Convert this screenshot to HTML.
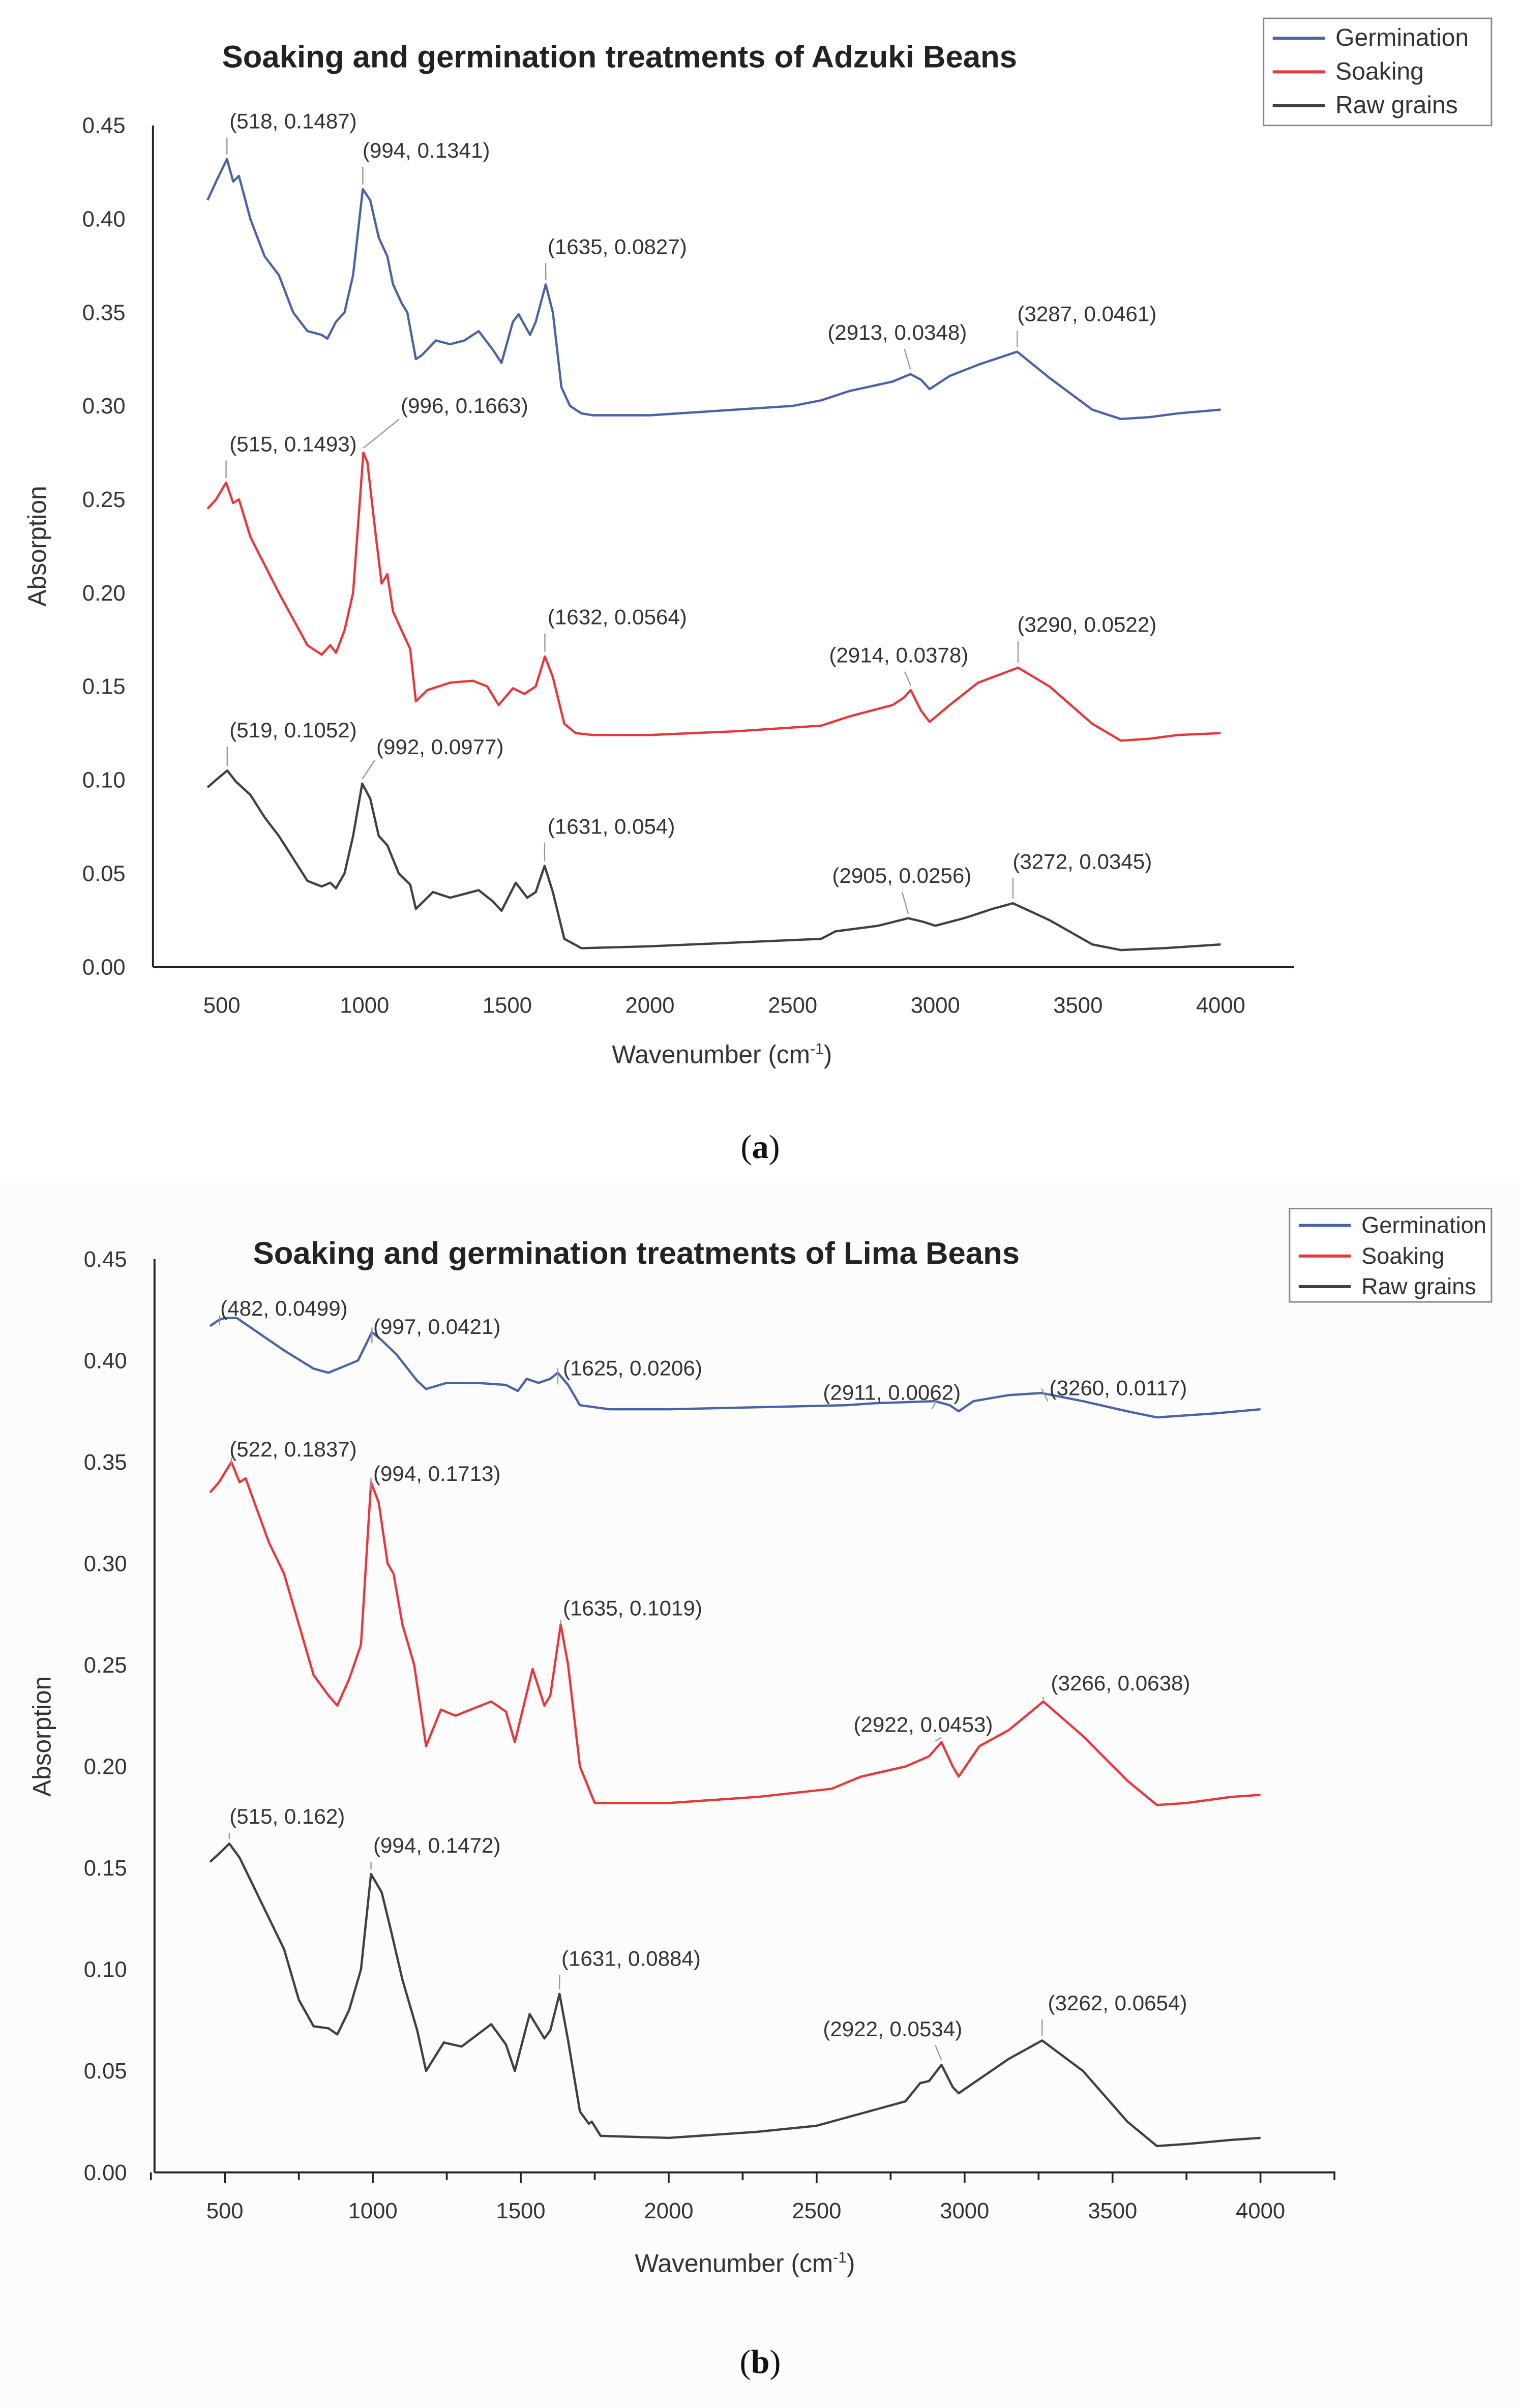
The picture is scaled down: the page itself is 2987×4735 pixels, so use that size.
<!DOCTYPE html>
<html><head><meta charset="utf-8"><style>
html,body{margin:0;padding:0;background:#fff;}
svg{display:block;font-family:"Liberation Sans",sans-serif;}
</style></head><body>
<svg id="s" width="2987" height="4735" viewBox="0 0 993 1574" preserveAspectRatio="none" xmlns="http://www.w3.org/2000/svg">
<rect x="0" y="0" width="993" height="1574" fill="#fff"/>
<rect x="0" y="770" width="993" height="804" fill="#fcfcfc"/>
</svg>
<script>
// ---- Chart A data (Adzuki) ----
const aGermX=[450,480,518,540,560,600,650,700,750,800,850,870,900,930,960,994,1020,1050,1080,1100,1130,1150,1180,1200,1250,1300,1350,1400,1450,1480,1520,1540,1580,1600,1635,1660,1690,1720,1760,1800,2000,2300,2500,2600,2700,2850,2913,2950,2980,3050,3150,3287,3400,3550,3650,3750,3850,4000];
const aGermY=[0.41,0.42,0.432,0.42,0.423,0.40,0.38,0.37,0.35,0.34,0.338,0.336,0.345,0.35,0.37,0.416,0.41,0.39,0.38,0.365,0.355,0.35,0.325,0.327,0.335,0.333,0.335,0.34,0.33,0.323,0.345,0.349,0.338,0.345,0.365,0.35,0.31,0.30,0.296,0.295,0.295,0.298,0.300,0.303,0.308,0.313,0.317,0.314,0.309,0.316,0.322,0.329,0.315,0.298,0.293,0.294,0.296,0.298];
const aSoakX=[450,480,515,540,560,600,650,700,750,800,850,880,900,930,960,996,1010,1040,1060,1080,1100,1130,1160,1180,1220,1300,1380,1430,1470,1520,1560,1600,1632,1660,1700,1740,1800,2000,2300,2600,2700,2850,2890,2914,2950,2980,3050,3150,3290,3400,3550,3650,3750,3850,4000];
const aSoakY=[0.245,0.25,0.259,0.248,0.25,0.23,0.215,0.20,0.186,0.172,0.167,0.172,0.168,0.18,0.20,0.275,0.27,0.23,0.205,0.21,0.19,0.18,0.17,0.142,0.148,0.152,0.153,0.15,0.14,0.149,0.146,0.150,0.166,0.155,0.13,0.125,0.124,0.124,0.126,0.129,0.134,0.14,0.144,0.148,0.137,0.131,0.14,0.152,0.16,0.15,0.13,0.121,0.122,0.124,0.125];
const aRawX=[450,480,519,550,600,650,700,750,800,850,880,900,930,960,992,1020,1050,1080,1120,1160,1180,1240,1300,1400,1450,1480,1530,1570,1600,1631,1660,1700,1760,2000,2300,2600,2650,2800,2905,2960,3000,3100,3200,3272,3400,3550,3650,3800,4000];
const aRawY=[0.096,0.10,0.105,0.099,0.092,0.08,0.07,0.058,0.046,0.043,0.045,0.042,0.05,0.07,0.098,0.09,0.07,0.065,0.05,0.044,0.031,0.04,0.037,0.041,0.035,0.03,0.045,0.037,0.04,0.054,0.04,0.015,0.01,0.011,0.013,0.015,0.019,0.022,0.026,0.024,0.022,0.026,0.031,0.034,0.025,0.012,0.009,0.010,0.012];
// ---- Chart B data (Lima) ----
const bGermX=[450,480,500,540,600,700,800,850,900,950,997,1030,1080,1150,1180,1250,1350,1450,1490,1520,1560,1600,1625,1660,1700,1800,2000,2300,2600,2700,2900,2950,2980,3030,3150,3260,3400,3550,3650,3750,3850,4000];
const bGermY=[0.417,0.42,0.421,0.421,0.415,0.405,0.396,0.394,0.397,0.400,0.414,0.41,0.403,0.39,0.386,0.389,0.389,0.388,0.385,0.391,0.389,0.391,0.394,0.388,0.378,0.376,0.376,0.377,0.378,0.379,0.380,0.378,0.375,0.380,0.383,0.384,0.380,0.375,0.372,0.373,0.374,0.376];
const bSoakX=[450,480,522,550,570,600,650,700,750,800,850,880,920,960,994,1020,1050,1070,1100,1140,1180,1230,1280,1330,1400,1450,1480,1540,1580,1600,1635,1660,1700,1750,2000,2300,2550,2650,2800,2880,2922,2960,2980,3050,3150,3266,3400,3550,3650,3750,3900,4000];
const bSoakY=[0.335,0.34,0.35,0.34,0.342,0.33,0.31,0.295,0.27,0.245,0.235,0.23,0.243,0.26,0.34,0.33,0.30,0.295,0.27,0.25,0.21,0.228,0.225,0.228,0.232,0.227,0.212,0.248,0.23,0.235,0.27,0.25,0.20,0.182,0.182,0.185,0.189,0.195,0.20,0.205,0.212,0.20,0.195,0.21,0.218,0.232,0.215,0.193,0.181,0.182,0.185,0.186];
const bRawX=[450,480,515,550,600,650,700,750,800,850,880,920,960,994,1030,1060,1100,1150,1180,1240,1300,1400,1450,1480,1530,1580,1600,1631,1660,1700,1730,1740,1770,2000,2300,2500,2650,2800,2850,2880,2922,2960,2980,3050,3150,3262,3400,3550,3650,3750,3900,4000];
const bRawY=[0.153,0.157,0.162,0.155,0.14,0.125,0.11,0.085,0.072,0.071,0.068,0.08,0.10,0.147,0.138,0.12,0.095,0.07,0.05,0.064,0.062,0.073,0.063,0.05,0.078,0.066,0.07,0.088,0.065,0.03,0.024,0.025,0.018,0.017,0.02,0.023,0.029,0.035,0.044,0.045,0.053,0.042,0.039,0.046,0.056,0.065,0.05,0.025,0.013,0.014,0.016,0.017];
const yTicks=["0.00","0.05","0.10","0.15","0.20","0.25","0.30","0.35","0.40","0.45"];
const xTicks=[500,1000,1500,2000,2500,3000,3500,4000];
const seriesNames=["Germination","Soaking","Raw grains"];
const aAnn=[[518,0.432,"(518, 0.1487)",150,84],[994,0.416,"(994, 0.1341)",237,103],[1635,0.365,"(1635, 0.0827)",358,166],[2913,0.317,"(2913, 0.0348)",541,222],[3287,0.329,"(3287, 0.0461)",665,210],
[996,0.275,"(996, 0.1663)",262,270],[515,0.259,"(515, 0.1493)",150,295],[1632,0.166,"(1632, 0.0564)",358,408],[2914,0.148,"(2914, 0.0378)",542,433],[3290,0.16,"(3290, 0.0522)",665,413],
[519,0.105,"(519, 0.1052)",150,482],[992,0.098,"(992, 0.0977)",246,493],[1631,0.054,"(1631, 0.054)",358,545],[2905,0.026,"(2905, 0.0256)",544,577],[3272,0.034,"(3272, 0.0345)",662,568]];
const bAnn=[[482,0.42,"(482, 0.0499)",144,860],[997,0.414,"(997, 0.0421)",244,872],[1625,0.394,"(1625, 0.0206)",368,899],[2911,0.380,"(2911, 0.0062)",538,915],[3260,0.384,"(3260, 0.0117)",686,912],
[522,0.35,"(522, 0.1837)",150,952],[994,0.34,"(994, 0.1713)",244,968],[1635,0.27,"(1635, 0.1019)",368,1056],[2922,0.212,"(2922, 0.0453)",558,1132],[3266,0.232,"(3266, 0.0638)",687,1105],
[515,0.162,"(515, 0.162)",150,1192],[994,0.147,"(994, 0.1472)",244,1211],[1631,0.088,"(1631, 0.0884)",367,1285],[2922,0.053,"(2922, 0.0534)",538,1331],[3262,0.065,"(3262, 0.0654)",685,1314]];

const NS="http://www.w3.org/2000/svg";
const svg=document.getElementById('s');
const COLORS=["#4a63a8","#e8373b","#404040"];
function mk(tag,attrs,parent){const e=document.createElementNS(NS,tag);for(const k in attrs)e.setAttribute(k,attrs[k]);(parent||svg).appendChild(e);return e;}

function chart(cfg){
  const g=mk('g',{});
  
  
  const sx=v=>cfg.x500+(v-500)*(cfg.x4000-cfg.x500)/3500;
  const sy=v=>cfg.y0+(v)*(cfg.y45-cfg.y0)/0.45;
  const t=mk('text',{x:cfg.titleX,y:cfg.titleY,'text-anchor':'middle','font-size':cfg.titleSize,'font-weight':'bold',fill:'#222'},g);
  t.textContent=cfg.title;
  
  
  const ya=mk('line',{x1:cfg.axX,y1:sy(0.45),x2:cfg.axX,y2:sy(0),stroke:'#222','stroke-width':1.3},g);
  
  
  const xa=mk('line',{x1:cfg.axX,y1:sy(0),x2:cfg.axEnd,y2:sy(0),stroke:'#222','stroke-width':1.3},g);
  
  
  yTicks.forEach(s=>{const v=parseFloat(s);
    const tl=mk('text',{x:cfg.axX-18,y:sy(v)+5,'text-anchor':'end','font-size':14.5,fill:'#333'},g);
    tl.textContent=s;
    
    
  });
  xTicks.forEach(v=>{
    const tl=mk('text',{x:sx(v),y:sy(0)+30,'text-anchor':'middle','font-size':14.5,fill:'#333'},g);
    tl.textContent=v;
    
    
  });
  if(cfg.ticks){for(let v=250;v<=4250;v+=250){const tk=mk('line',{x1:sx(v),y1:sy(0),x2:sx(v),y2:sy(0)+(v%500==0?7:5),stroke:'#222','stroke-width':1.2},g);
    
    }}
  const xl=mk('text',{x:cfg.xlX,y:cfg.xlY,'text-anchor':'middle','font-size':16.5,fill:'#333'},g);
  xl.innerHTML='Wavenumber (cm<tspan dy="-6" font-size="10">-1</tspan><tspan dy="6">)</tspan>';
  
  
  const yl=mk('text',{x:0,y:0,transform:`translate(${cfg.ylX},${cfg.ylY}) rotate(-90)`,'text-anchor':'middle','font-size':16.5,fill:'#333'},g);
  yl.textContent='Absorption';
  
  
  cfg.series.forEach((s,i)=>{
    let d='';s[0].forEach((x,j)=>{d+=(j?'L':'M')+sx(x).toFixed(2)+','+sy(s[1][j]).toFixed(2);});
    const p=mk('path',{d:d,fill:'none',stroke:COLORS[i],'stroke-width':1.5,'stroke-linejoin':'round'},g);
    
    
  });
  cfg.ann.forEach(a=>{
    const px=sx(a[0]),py=sy(a[1]);
    let x1,y1;
    if(a[3]>px+5){x1=a[3]-1;y1=a[4]+4;}
    else if(px>a[3]+40){x1=px-4;y1=a[4]+6;}
    else {x1=px;y1=a[4]+6;}
    const ln=mk('line',{x1:x1,y1:y1,x2:px,y2:py-3,stroke:'#999','stroke-width':0.8},g);
    
    
    const tx=mk('text',{x:a[3],y:a[4],'font-size':14,fill:'#333'},g);
    tx.textContent=a[2];
    
    
  });
  const L=cfg.leg;
  const lb=mk('rect',{x:L.x,y:L.y,width:L.w,height:L.h,fill:'#fff',stroke:'#888','stroke-width':1},g);
  
  
  seriesNames.forEach((n,i)=>{const yy=L.y+L.first+i*L.step;
    const ll=mk('line',{x1:L.x+6,y1:yy,x2:L.x+40,y2:yy,stroke:COLORS[i],'stroke-width':2},g);
    
    
    const lt=mk('text',{x:L.x+47,y:yy+5,'font-size':L.fs,fill:'#333'},g);
    lt.textContent=(cfg.name==='chart-lima'&&n==='Raw grains')?'Raw  grains':n;
    
    
  });
  const cap=mk('text',{x:cfg.capX,y:cfg.capY,'text-anchor':'middle','font-size':22,'font-family':'Liberation Serif, serif',fill:'#111'},g);
  cap.innerHTML=cfg.cap;
  
  
}
chart({name:'chart-adzuki',title:'Soaking and germination treatments of Adzuki Beans',titleX:405,titleY:44,titleSize:20.5,
 x500:145,x4000:798,y0:632,y45:82,axX:100,axEnd:846,ticks:false,xlX:472,xlY:695,ylX:30,ylY:357,
 series:[[aGermX,aGermY],[aSoakX,aSoakY],[aRawX,aRawY]],ann:aAnn,
 leg:{x:826,y:12,w:149,h:70,first:13,step:22,fs:16},capX:497,capY:757,cap:'(<tspan font-weight="bold">a</tspan>)'});
chart({name:'chart-lima',title:'Soaking and germination  treatments of Lima Beans',titleX:416,titleY:826,titleSize:20.5,
 x500:147,x4000:824,y0:1420,y45:823,axX:101,axEnd:873,ticks:true,xlX:487,xlY:1485,ylX:33,ylY:1135,
 series:[[bGermX,bGermY],[bSoakX,bSoakY],[bRawX,bRawY]],ann:bAnn,
 leg:{x:843,y:790,w:132,h:61,first:11,step:20,fs:15},capX:497,capY:1551,cap:'(<tspan font-weight="bold">b</tspan>)'});
</script>
</body></html>
